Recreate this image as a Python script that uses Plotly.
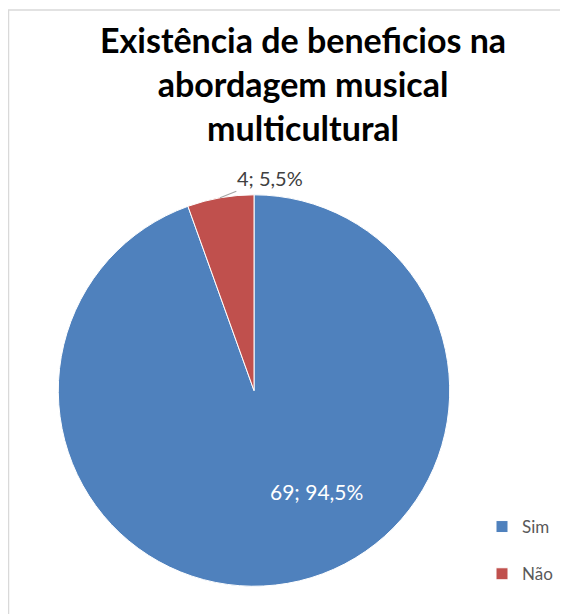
import math
import plotly.graph_objects as go

categories = ["Sim", "Não"]
values = [69, 4]
colors = ["#4F81BD", "#C0504D"]
title_lines = ["Existência de beneficios na", "abordagem musical", "multicultural"]

total = sum(values)
texts = [f"{v}; {100 * v / total:.1f}%".replace(".", ",") for v in values]

# the page has an 8px body margin, so the figure is slightly smaller
W, H = 560, 606
# pie placement (figure pixels)
cx, cy, r = 246, 387, 198

fig = go.Figure()
fig.add_trace(go.Pie(
    labels=[c + "<br> " for c in categories],
    values=values,
    textinfo="none",
    hoverinfo="skip",
    sort=False,
    direction="clockwise",
    rotation=0,
    marker=dict(colors=colors, line=dict(color="white", width=1)),
    domain=dict(x=[(cx - r) / W, (cx + r) / W], y=[1 - (cy + r) / H, 1 - (cy - r) / H]),
    showlegend=True,
))

def px(x, y):
    return x / W, 1 - y / H

annotations = []
# title
tx, ty = px(295, 76)
annotations.append(dict(
    text="<br>".join(title_lines), x=tx, y=ty, xref="paper", yref="paper",
    xanchor="center", yanchor="middle", showarrow=False,
    font=dict(family="Lato", size=34, color="black", weight="bold"),
))

# inside label for the large slice
ang = math.radians(148.7)
ix, iy = px(cx + 0.603 * r * math.sin(ang), cy - 0.603 * r * math.cos(ang))
annotations.append(dict(
    text=texts[0], x=ix, y=iy, xref="paper", yref="paper",
    xanchor="center", yanchor="middle",
    showarrow=False, font=dict(family="Lato", size=21, color="white"),
))

# outside label for the small slice, with a leader line from the slice edge
mid = 2 * math.pi * (values[0] + values[1] / 2) / total
ex, ey = cx + r * math.sin(mid), cy - r * math.cos(mid)
axp, ayp = px(ex, ey)
annotations.append(dict(
    text=texts[1], x=axp, y=ayp, xref="paper", yref="paper",
    showarrow=True, ax=50, ay=-20, arrowhead=0, arrowwidth=1.2,
    arrowcolor="#A6A6A6", standoff=0,
    font=dict(family="Lato", size=20, color="#404040"),
))

fig.update_layout(
    width=W, height=H,
    margin=dict(l=0, r=0, t=0, b=0),
    paper_bgcolor="white",
    annotations=annotations,
    legend=dict(
        x=474 / W, xanchor="left",
        y=1 - 507 / H, yanchor="top",
        font=dict(family="Lato", size=17, color="#595959"),
        valign="top",
        itemwidth=30,
    ),
    shapes=[dict(type="rect", xref="paper", yref="paper",
                 x0=0.5 / W, x1=1.2, y0=-0.2, y1=1 - 2 / H,
                 line=dict(color="#D9D9D9", width=1.5))],
)

fig.write_html("out.html")
